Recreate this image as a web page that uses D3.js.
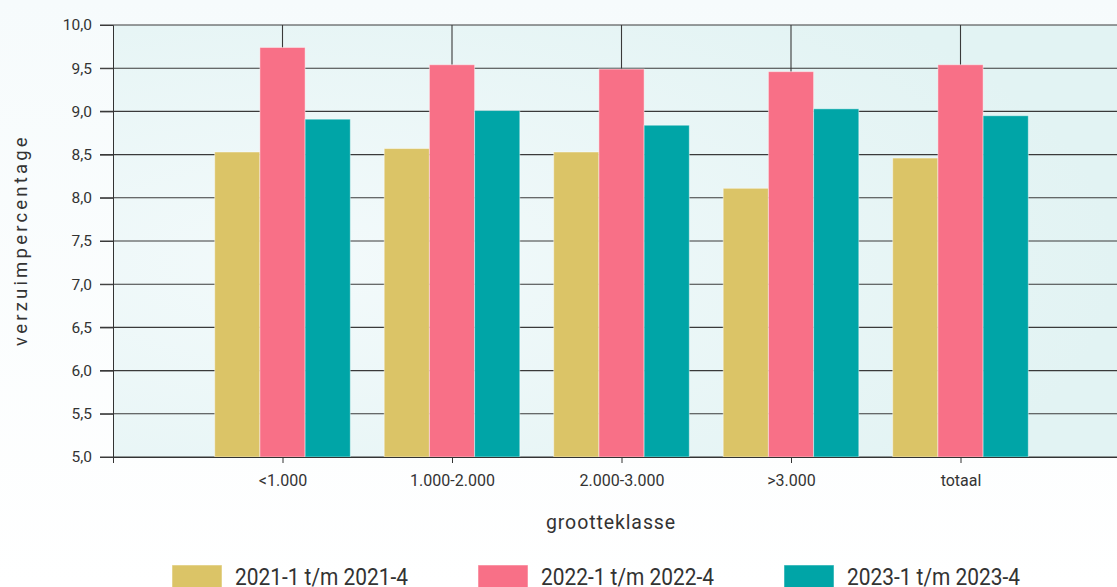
<!DOCTYPE html>
<html>
<head>
<meta charset="utf-8">
<script src="https://cdn.jsdelivr.net/npm/d3@7"></script>
<style>
  html, body { margin: 0; padding: 0; background: #fff; }
  svg { display: block; font-family: Roboto, "Open Sans", sans-serif; }
</style>
</head>
<body>
<div id="container"></div>
<script>
/*
    Chart data
*/
var categories = ["<1.000", "1.000-2.000", "2.000-3.000", ">3.000", "totaal"];
var seriesNames = ["2021-1 t/m 2021-4", "2022-1 t/m 2022-4", "2023-1 t/m 2023-4"];
var values2021 = [8.53, 8.57, 8.53, 8.11, 8.46];
var values2022 = [9.74, 9.54, 9.49, 9.46, 9.54];
var values2023 = [8.91, 9.01, 8.84, 9.03, 8.95];
var colors = ["#dbc467", "#f87087", "#00a5a7"];
var yTicks = [5.0, 5.5, 6.0, 6.5, 7.0, 7.5, 8.0, 8.5, 9.0, 9.5, 10.0];

var width = 1117, height = 587;
// note: "top" is a reserved window property, so plot edges get their own names
var plotLeft = 113, plotTop = 25, plotBottom = 457;
var step = 169.5;

var svg = d3.select("#container").append("svg")
    .attr("width", width)
    .attr("height", height);

var defs = svg.append("defs");

var pageGrad = defs.append("linearGradient").attr("id", "pageGrad")
    .attr("x1", 0).attr("y1", 0).attr("x2", 0).attr("y2", 1);
pageGrad.append("stop").attr("offset", "0%").attr("stop-color", "#f6fbfc");
pageGrad.append("stop").attr("offset", "100%").attr("stop-color", "#ffffff");

var plotGrad = defs.append("radialGradient").attr("id", "plotGrad")
    .attr("cx", "20%").attr("cy", "55%").attr("r", "80%");
plotGrad.append("stop").attr("offset", "0%").attr("stop-color", "#f3fafb");
plotGrad.append("stop").attr("offset", "100%").attr("stop-color", "#e2f3f3");

svg.append("rect")
    .attr("width", width).attr("height", height)
    .attr("fill", "url(#pageGrad)");

/*
    Scales: category index on a linear axis, starting one step left of the first group
*/
var x = d3.scaleLinear().domain([0, 6]).range([plotLeft, plotLeft + 6 * step]);
var y = d3.scaleLinear().domain([5, 10]).range([plotBottom, plotTop]);

var groupWidth = step * 0.8;
var xSub = d3.scaleBand().domain(d3.range(seriesNames.length)).range([0, groupWidth]);

svg.append("rect")
    .attr("x", plotLeft).attr("y", plotTop)
    .attr("width", width - plotLeft).attr("height", plotBottom - plotTop)
    .attr("fill", "url(#plotGrad)");

/*
    Grid lines
*/
var g = svg.append("g");

g.selectAll(".hgrid")
    .data(yTicks)
    .enter().append("line")
    .attr("class", "hgrid")
    .attr("x1", plotLeft - 13).attr("x2", width)
    .attr("y1", function (d) { return y(d); })
    .attr("y2", function (d) { return y(d); })
    .attr("stroke", "#3a3a3a").attr("stroke-width", 1.1);

g.selectAll(".vgrid")
    .data(categories)
    .enter().append("line")
    .attr("class", "vgrid")
    .attr("x1", function (d, i) { return x(i + 1); })
    .attr("x2", function (d, i) { return x(i + 1); })
    .attr("y1", plotTop).attr("y2", plotBottom)
    .attr("stroke", "#3a3a3a").attr("stroke-width", 1.1);

/*
    Bars
*/
var allSeries = [values2021, values2022, values2023];

allSeries.forEach(function (vals, s) {
    g.selectAll(".bar" + s)
        .data(vals)
        .enter().append("rect")
        .attr("class", "bar" + s)
        .attr("x", function (d, i) { return x(i + 1) - groupWidth / 2 + xSub(s); })
        .attr("y", function (d) { return y(d); })
        .attr("width", xSub.bandwidth())
        .attr("height", function (d) { return y(5) - y(d); })
        .attr("fill", colors[s])
        .attr("stroke", "rgba(255,255,255,0.45)")
        .attr("stroke-width", 1);
});

/*
    Axes
*/
var yAxis = d3.axisLeft(y)
    .tickValues(yTicks)
    .tickSize(13)
    .tickPadding(8)
    .tickFormat(function (d) { return d3.format(".1f")(d).replace(".", ","); });

var yg = svg.append("g")
    .attr("transform", "translate(" + plotLeft + ",0)")
    .call(yAxis);
yg.select(".domain").attr("stroke", "#333");
yg.selectAll(".tick line").attr("stroke", "#3a3a3a");
yg.selectAll("text")
    .attr("font-size", 15.5)
    .attr("fill", "#333")
    .attr("font-family", "Roboto, sans-serif");

var xAxis = d3.axisBottom(x)
    .tickValues([0, 1, 2, 3, 4, 5])
    .tickSize(6)
    .tickPadding(12)
    .tickFormat(function (d) { return d === 0 ? "" : categories[d - 1]; });

var xg = svg.append("g")
    .attr("transform", "translate(0," + plotBottom + ")")
    .call(xAxis);
xg.select(".domain").attr("stroke", "#333");
xg.selectAll(".tick line").attr("stroke", "#333");
xg.selectAll("text")
    .attr("font-size", 16)
    .attr("fill", "#333")
    .attr("font-family", "Roboto, sans-serif");

/*
    Axis titles
*/
svg.append("text")
    .attr("transform", "translate(27,240) rotate(-90)")
    .attr("text-anchor", "middle")
    .attr("font-size", 18.5)
    .attr("letter-spacing", 3.2)
    .attr("fill", "#333")
    .text("verzuimpercentage");

svg.append("text")
    .attr("x", 611).attr("y", 529)
    .attr("text-anchor", "middle")
    .attr("font-size", 19.5)
    .attr("letter-spacing", 0.9)
    .attr("fill", "#333")
    .text("grootteklasse");

/*
    Legend
*/
var legend = svg.selectAll(".legend")
    .data(seriesNames)
    .enter().append("g")
    .attr("class", "legend")
    .attr("transform", function (d, i) { return "translate(" + (172 + i * 306) + ",565)"; });

legend.append("rect")
    .attr("width", 50).attr("height", 26)
    .attr("fill", function (d, i) { return colors[i]; })
    .attr("stroke", "rgba(255,255,255,0.5)");

legend.append("text")
    .attr("x", 63).attr("y", 20)
    .attr("font-size", 23)
    .attr("textLength", 173)
    .attr("lengthAdjust", "spacingAndGlyphs")
    .attr("fill", "#333")
    .text(function (d) { return d; });
</script>
</body>
</html>
